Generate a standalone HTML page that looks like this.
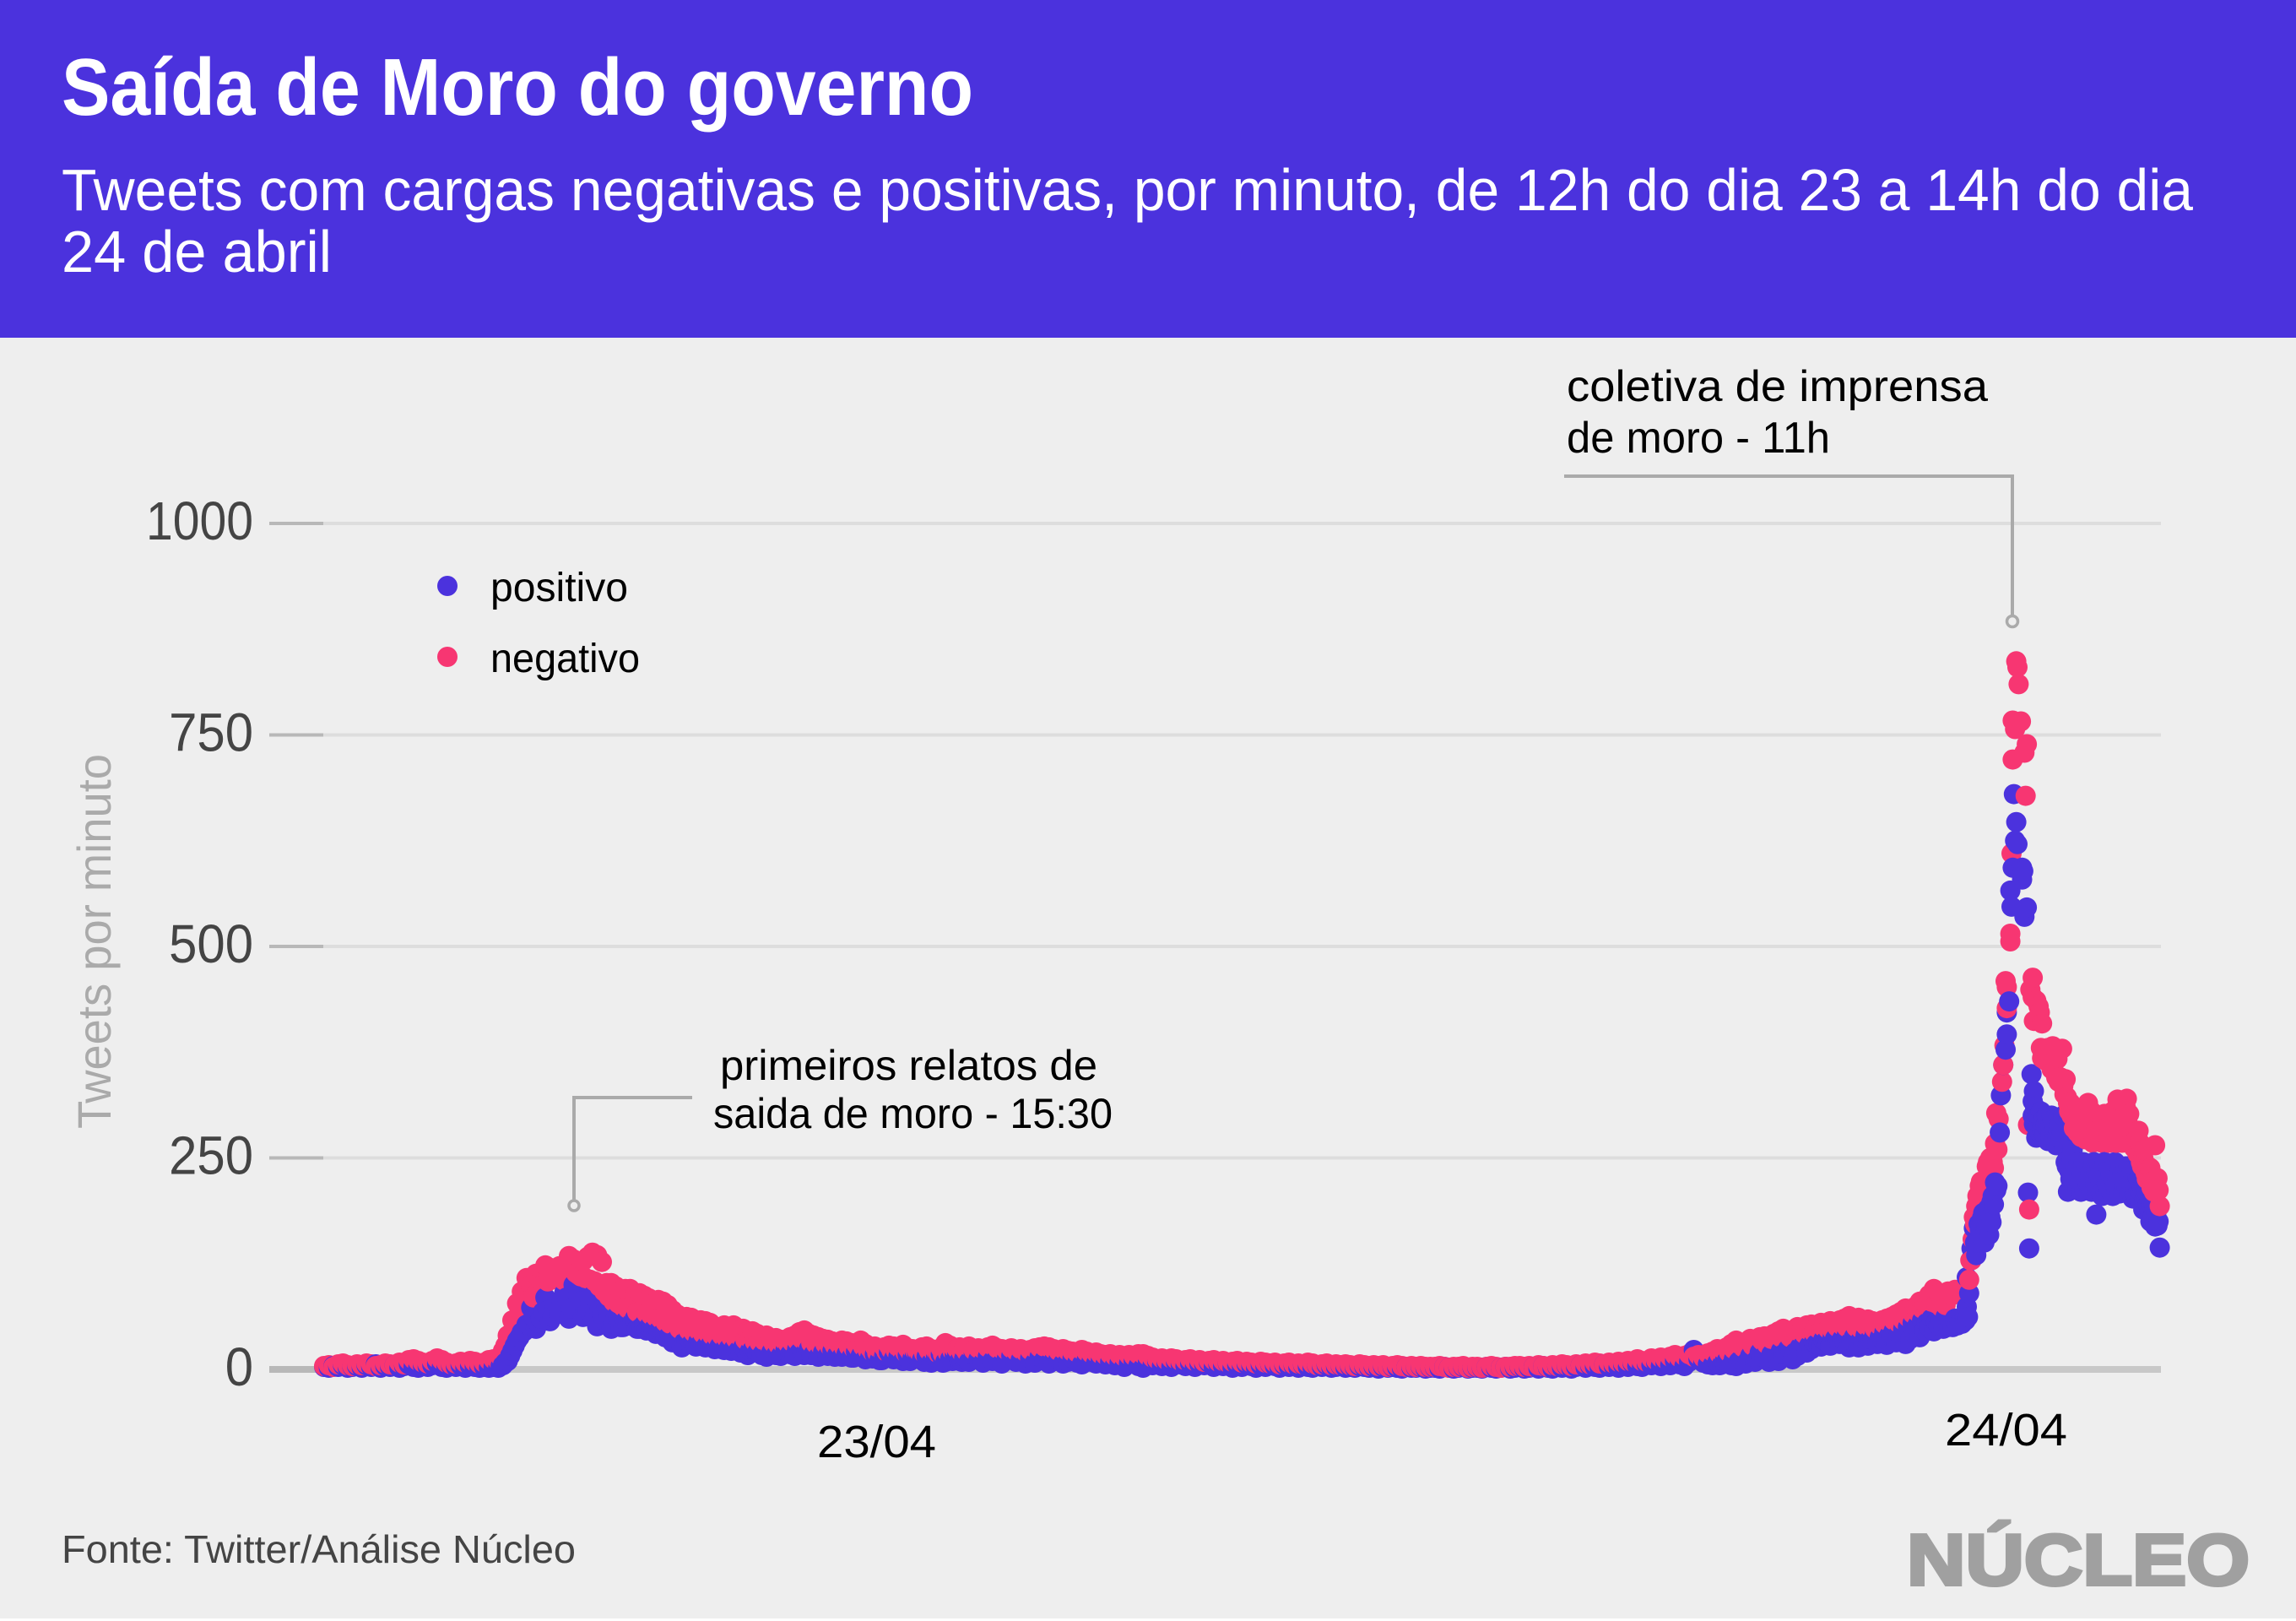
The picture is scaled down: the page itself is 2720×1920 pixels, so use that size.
<!DOCTYPE html>
<html lang="pt-BR">
<head>
<meta charset="utf-8">
<title>Saída de Moro do governo</title>
<style>
html,body{margin:0;padding:0;background:#fff;}
svg{display:block;font-family:"Liberation Sans",sans-serif;}
</style>
</head>
<body>
<svg id="chart" xmlns="http://www.w3.org/2000/svg" width="2720" height="1920" viewBox="0 0 2720 1920">
  <rect x="0" y="0" width="2720" height="1917" fill="#eeeeee"/>
  <rect x="0" y="0" width="2720" height="400" fill="#4b32dd"/>
  <text x="73" y="136" font-size="96" font-weight="700" fill="#ffffff" textLength="1080" lengthAdjust="spacingAndGlyphs">Saída de Moro do governo</text>
  <text x="73" y="249" font-size="70" fill="#ffffff" textLength="2525" lengthAdjust="spacingAndGlyphs">Tweets com cargas negativas e positivas, por minuto, de 12h do dia 23 a 14h do dia</text>
  <text x="73" y="322" font-size="70" fill="#ffffff" textLength="320" lengthAdjust="spacingAndGlyphs">24 de abril</text>

  <g id="y-axis"></g>
  <text transform="translate(131,1337) rotate(-90)" font-size="56" fill="#aaaaaa" textLength="444" lengthAdjust="spacingAndGlyphs">Tweets por minuto</text>

  <g id="points"></g>

  <g>
    <circle cx="530" cy="694" r="12" fill="#4b32dd"/>
    <text x="581" y="712" font-size="48" fill="#000000" textLength="163" lengthAdjust="spacingAndGlyphs">positivo</text>
    <circle cx="530" cy="778" r="12" fill="#f73672"/>
    <text x="581" y="796" font-size="48" fill="#000000" textLength="177" lengthAdjust="spacingAndGlyphs">negativo</text>
  </g>

  <g>
    <polyline points="820,1300 680,1300 680,1422" fill="none" stroke="#aaaaaa" stroke-width="4"/>
    <circle cx="680" cy="1428" r="6" fill="#eeeeee" stroke="#aaaaaa" stroke-width="3.5"/>
    <text x="853" y="1279" font-size="50" fill="#000000" textLength="447" lengthAdjust="spacingAndGlyphs">primeiros relatos de</text>
    <text x="845" y="1336" font-size="50" fill="#000000" textLength="473" lengthAdjust="spacingAndGlyphs">saida de moro - 15:30</text>
  </g>

  <g>
    <polyline points="1853,564 2384,564 2384,730" fill="none" stroke="#aaaaaa" stroke-width="4"/>
    <circle cx="2384" cy="736" r="6.5" fill="#eeeeee" stroke="#aaaaaa" stroke-width="3.5"/>
    <text x="1856" y="475" font-size="52" fill="#000000" textLength="499" lengthAdjust="spacingAndGlyphs">coletiva de imprensa</text>
    <text x="1856" y="536" font-size="52" fill="#000000" textLength="312" lengthAdjust="spacingAndGlyphs">de moro - 11h</text>
  </g>

  <text x="968" y="1726" font-size="54" fill="#000000" textLength="141" lengthAdjust="spacingAndGlyphs">23/04</text>
  <text x="2304" y="1712" font-size="54" fill="#000000" textLength="145" lengthAdjust="spacingAndGlyphs">24/04</text>

  <text x="73" y="1851" font-size="46" fill="#444444" textLength="609" lengthAdjust="spacingAndGlyphs">Fonte: Twitter/Análise Núcleo</text>
  <text x="2259" y="1877" font-size="85" font-weight="700" fill="#a0a0a0" stroke="#a0a0a0" stroke-width="4" textLength="406" lengthAdjust="spacingAndGlyphs">NÚCLEO</text>
</svg>

<script>
// Y axis ticks
const yTicks = [0, 250, 500, 750, 1000];
const yTickLabels = ["0", "250", "500", "750", "1000"];

// Sampled every baseStep minutes from minute 0 (12h on 23/04)
const baseStep = 4;
const positivoBase = [
3,2,4,3,5,2,3,4,2,5,3,6,2,4,3,5,2,4,6,3,
2,4,3,5,7,3,2,4,3,5,2,4,3,2,3,2,3,2,
5,10,22,34,44,53,73,48,60,85,57,72,66,90,60,100,92,62,70,87,
51,66,73,48,62,50,57,52,60,48,53,50,47,45,43,38,32,36,26,34,
30,27,30,26,28,24,27,23,25,24,22,26,17,23,20,17,15,20,17,16,
22,18,16,20,17,24,18,15,20,16,22,17,15,18,14,21,16,12,
14,18,11,16,20,12,15,10,17,13,19,11,15,8,14,18,9,12,16,10,
13,9,17,12,8,15,10,14,7,12,16,9,11,7,13,8,15,11,7,10,
12,7,9,13,8,6,11,9,7,10,6,9,5,8,3,7,10,4,2,8,
5,9,4,7,3,8,6,4,7,3,6,5,8,3,6,4,7,2,5,3,
6,4,2,5,3,6,4,2,5,3,4,2,5,3,2,4,3,5,2,3,
4,2,3,2,4,3,2,3,1,3,2,3,2,1,3,2,2,3,1,2,
2,1,3,2,1,2,3,1,2,2,1,3,2,1,2,3,1,2,3,1,
2,3,1,4,2,1,3,2,4,1,3,5,2,4,3,2,6,3,4,2,
5,3,7,4,3,6,5,8,4,7,5,10,6,4,9,23,12,8,6,5,
8,6,10,5,4,12,7,16,9,20,14,9,13,10,18,24,12,16,27,20,
24,30,27,33,28,36,30,34,26,38,26,32,28,35,30,36,29,40,32,38,
30,36,42,38,46,50,45,52,48,50
];
const negativoBase = [
4,5,3,6,7,5,4,6,5,7,6,4,5,7,6,5,8,6,11,12,
10,8,7,10,13,11,8,6,7,9,8,10,9,7,8,11,12,10,
22,40,58,78,92,108,100,113,105,123,120,115,122,105,134,130,112,128,133,138,
135,127,102,102,98,92,95,95,88,90,87,84,78,82,80,76,70,65,60,62,
61,56,58,57,55,50,48,52,48,52,46,48,45,45,42,38,40,36,37,35,
33,38,40,44,46,42,40,38,36,35,33,32,34,33,31,30,34,30,
25,27,24,26,28,27,26,29,25,24,22,26,27,24,22,25,31,28,24,26,
25,27,23,25,24,26,28,25,24,23,25,22,24,21,23,25,26,27,26,24,
22,24,22,21,20,23,21,19,20,18,17,18,16,17,15,17,16,18,18,16,
14,12,13,11,13,12,10,11,12,10,11,9,10,11,9,10,8,9,10,8,
9,8,7,9,8,7,8,6,7,8,6,7,6,8,7,5,6,7,5,6,
5,6,5,4,6,5,4,5,4,5,3,4,5,4,3,4,3,4,3,3,
3,4,3,2,3,3,4,2,3,3,2,3,4,3,2,3,3,4,4,3,
4,3,5,4,3,5,4,6,5,4,6,5,7,6,8,7,6,8,7,9,
8,10,9,12,10,9,13,11,14,12,15,17,14,16,18,15,17,14,19,21,
24,20,26,30,34,28,31,36,33,38,39,35,42,45,48,44,46,50,48,52,
53,50,55,52,57,54,58,60,63,58,61,56,59,57,55,58,60,62,65,68,
72,70,74,80,78,88,95,90,86,92
];

// Extra samples in the first bump, every fillStep minutes from fillInicioA
const fillStep = 4;
const fillInicioA = 150;
const positivoFillA = [
4,8,16,28,38,45,52,62,55,68,70,62,75,80,85,72,92,80,68,78,
62,70,58,64,54,60,50,52,56,48,50,46,48,42,44,38,40,34,36,32,
34,30,33,28,30,26,28,24,27,22,25,20,23,22,24,19,21,18,22,17,
20,22,18,24,20,22,17,20,16,22,18,15,20,16,19,14,17,21,15,13,
18,11,16,14,19,12,15,10,17,13,9,15,12,16,8,14,10,17,9,13
];
const negativoFillA = [
15,28,42,58,68,78,88,85,92,100,104,108,106,112,116,118,114,110,108,106,
104,98,92,86,80,78,74,72,70,68,70,66,64,62,60,56,54,52,48,50,
46,44,46,42,43,40,38,40,37,38,36,38,35,36,33,32,34,30,31,29,
30,31,32,34,36,33,31,30,28,30,27,28,29,26,27,25,26,27,23,21,
20,22,21,23,22,24,20,21,23,20,19,22,21,19,18,20,22,24,20,21
];

// Extra samples on the pre-spike ramp, from fillInicioB
const fillInicioB = 1186;
const positivoFillB = [
5,9,7,12,9,14,10,16,12,15,20,18,14,22,18,24,20,26,30,28,
32,29,35,31,38,33,36,40,34,38,35,40,36,42,38,44,40,46,42,48,
50,55,52,58,55,60,56,58,62
];
const negativoFillB = [
18,22,20,24,28,26,30,28,32,34,30,36,34,38,40,38,42,44,42,46,
44,48,50,48,46,50,52,50,48,50,48,52,50,48,52,54,56,58,55,58,
62,66,68,72,76,80,78,74,76
];

// Press-conference spike, read point by point
const positivoPicoMinutos = [
1382,1384,1386,1388,1390,1392,1394,1395,1396,1397,1398,1396,1400,1402,1403,1404,1405,1406,1407,1408,1409,1410,1411,1412,1413,1414,1415,1416,1417,1417,1418,1419,1420,1421,1422,1424,1425,1427,1429,1430,1430,1432,
1433,1434,1435,1436,1437,1438,1439,1443,1443,1444,1445,1447,1448,1449,
1451,1452,1453,1455,1457,1460,1463,1465,1468,1470,1472,1474,1476,1478,1480,1482,1484,1486,1488,1490,1493,1495,1497,1500,1503,1505,1506,1506,1509,1511,1513,1515,1520,1522,1524,1527,1530,1533,1535,1537,1540,1542,1544,1546,1548,1550,1552,1556,1557,1558,1559,1560,
1452,1453,1454,1456,1458,1459,1461,1462,1464,1466,1467,1469,1471,1473,1475,1477,1479,1481,1483,1485,1487,1489,1491,1492,1494,1496,1498,1499,1501,1502,1504,1507,1508,1510,1512,1514,1516,1517,1518,1519,1521,1523,1525,1526,1528,1529,1531,1532,1534,1536,1538,1539,1541,1543,1545,1547,1549,1551,1553,1554,1555
];
const positivoPicoValores = [
52,50,60,52,55,54,60,58,74,62,90,109,143,167,150,135,150,172,165,155,179,185,150,165,170,190,159,180,174,198,205,195,221,212,217,280,324,360,378,396,422,435,
566,547,593,680,625,647,621,593,579,589,535,546,209,143,
349,317,329,274,300,285,289,270,300,279,265,282,275,300,245,210,225,260,240,215,210,245,225,215,240,220,235,183,240,205,245,220,205,245,225,240,215,240,225,202,205,225,210,189,205,195,175,169,185,170,175,144,
300,290,310,285,280,305,295,278,300,285,276,295,285,275,290,280,262,240,235,248,215,228,245,220,232,212,240,218,232,210,245,212,228,208,232,210,240,212,230,208,225,212,240,208,232,210,240,215,207,235,210,205,228,200,215,200,210,190,195,180,195
];
const negativoPicoMinutos = [
1382,1384,1386,1388,1390,1392,1394,1395,1398,1399,1400,1401,1402,1403,1404,1405,1406,1407,1408,1410,1411,1412,1413,1414,1415,1416,1417,1418,1419,1420,1421,1422,1423,1426,1427,1428,1429,1430,1430,1433,1433,1434,1435,1435,1437,1438,1439,1440,1442,1445,1446,1447,1448,1449,1450,1452,1452,1453,1455,1457,1458,1460,
1459,1461,1463,1465,1467,1469,1471,1473,1475,1477,1478,1480,1481,1482,1484,1486,1488,1489,1491,1493,1495,1497,1499,1501,1503,1505,1507,1509,1511,1513,1515,1517,1519,1521,1523,1524,1526,1528,1530,1532,1534,1536,1538,1540,1542,1544,1546,1548,1550,1552,1554,1556,1557,1558,1559,1560,
1460,1462,1464,1466,1468,1470,1472,1474,1476,1479,1483,1485,1487,1490,1492,1494,1496,1498,1500,1502,1504,1506,1508,1510,1512,1514,1516,1518,1520,1522,1525,1527,1529,1531,1533,1535,1537,1539,1541,1543,1545,1547,1549,1551,1553,1555
];
const negativoPicoValores = [
90,88,94,92,93,90,96,94,106,129,129,154,180,172,193,205,190,217,222,210,215,225,240,245,235,250,228,245,238,267,303,260,296,340,360,383,459,452,427,515,506,610,721,767,757,837,830,810,766,729,678,739,289,189,449,463,440,412,436,429,422,409,
380,372,365,380,362,382,350,367,345,379,335,343,322,315,315,300,290,305,285,275,295,272,315,275,268,290,270,272,268,302,272,268,290,270,268,319,282,268,300,320,302,270,262,272,282,245,250,232,240,238,222,265,212,226,212,193,
368,378,375,372,355,375,345,340,345,325,305,300,285,280,295,278,285,300,290,305,275,282,272,280,290,285,275,280,305,285,295,275,285,310,290,280,275,262,255,268,240,260,225,230,215,210
];

const svgNS = "http://www.w3.org/2000/svg";
const xScale = function (minute) { return 384 + 1.394 * minute; };
const yScale = function (value) { return 1622 - 1.002 * value; };

const axisGroup = document.getElementById("y-axis");
yTicks.forEach(function (tick, i) {
  const y = yScale(tick);
  const isZero = tick === 0;

  const grid = document.createElementNS(svgNS, "line");
  
  
  grid.setAttribute("x1", 383);
  grid.setAttribute("x2", 2560);
  grid.setAttribute("y1", y);
  grid.setAttribute("y2", y);
  grid.setAttribute("stroke", isZero ? "#c8c8c8" : "#dddddd");
  grid.setAttribute("stroke-width", isZero ? 8 : 4);
  axisGroup.appendChild(grid);

  const mark = document.createElementNS(svgNS, "line");
  
  
  mark.setAttribute("x1", 319);
  mark.setAttribute("x2", 383);
  mark.setAttribute("y1", y);
  mark.setAttribute("y2", y);
  mark.setAttribute("stroke", "#b8b8b8");
  mark.setAttribute("stroke-width", isZero ? 8 : 4);
  axisGroup.appendChild(mark);

  const text = yTickLabels[i];
  const label = document.createElementNS(svgNS, "text");
  
  
  label.setAttribute("x", 300);
  label.setAttribute("y", y + 19);
  label.setAttribute("text-anchor", "end");
  label.setAttribute("font-size", 64);
  label.setAttribute("fill", "#444444");
  label.setAttribute("textLength", text.length === 4 ? 127 : text.length * 33.3);
  label.setAttribute("lengthAdjust", "spacingAndGlyphs");
  label.textContent = text;
  axisGroup.appendChild(label);
});

// Merge in time order: each minute draws positive first, then negative
const marks = [];
positivoBase.forEach(function (v, i) { marks.push({ m: i * baseStep, v: v, s: 0 }); });
negativoBase.forEach(function (v, i) { marks.push({ m: i * baseStep, v: v, s: 1 }); });
positivoFillA.forEach(function (v, i) { marks.push({ m: fillInicioA + i * fillStep, v: v, s: 0 }); });
negativoFillA.forEach(function (v, i) { marks.push({ m: fillInicioA + i * fillStep, v: v, s: 1 }); });
positivoFillB.forEach(function (v, i) { marks.push({ m: fillInicioB + i * fillStep, v: v, s: 0 }); });
negativoFillB.forEach(function (v, i) { marks.push({ m: fillInicioB + i * fillStep, v: v, s: 1 }); });
positivoPicoValores.forEach(function (v, i) { marks.push({ m: positivoPicoMinutos[i], v: v, s: 0 }); });
negativoPicoValores.forEach(function (v, i) { marks.push({ m: negativoPicoMinutos[i], v: v, s: 1 }); });
marks.sort(function (a, b) { return a.m - b.m || a.s - b.s; });

const pointGroup = document.getElementById("points");
marks.forEach(function (p) {
  const dot = document.createElementNS(svgNS, "circle");
  
  
  dot.setAttribute("cx", xScale(p.m).toFixed(1));
  dot.setAttribute("cy", yScale(p.v).toFixed(1));
  dot.setAttribute("r", 12);
  dot.setAttribute("fill", p.s === 0 ? "#4b32dd" : "#f73672");
  pointGroup.appendChild(dot);
});
</script>
</body>
</html>
